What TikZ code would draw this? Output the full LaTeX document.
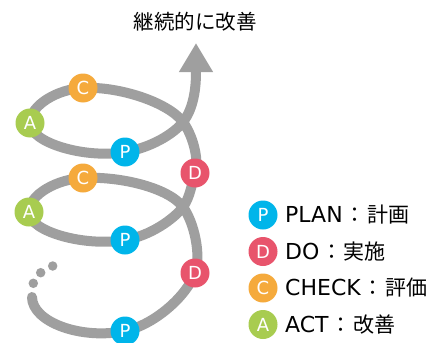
\documentclass[tikz,border=0pt]{standalone}
\usepackage{fontspec}
\setmainfont{Noto Sans CJK JP}
\newfontfamily\latinf{DejaVu Sans}
\usetikzlibrary{arrows.meta}
\definecolor{pcol}{RGB}{0,181,234}
\definecolor{dcol}{RGB}{232,84,108}
\definecolor{ccol}{RGB}{245,170,60}
\definecolor{acol}{RGB}{168,204,80}
\definecolor{spgray}{RGB}{159,159,159}
\tikzset{
  spiral/.style={draw=spgray, line width=10pt, line cap=round, -{Triangle[length=29pt,width=32pt]}},
  badge/.style={circle, minimum size=29pt, inner sep=0pt, text=white, font=\latinf\fontsize{18}{18}\selectfont},
  pbadge/.style={badge, fill=pcol},
  dbadge/.style={badge, fill=dcol},
  cbadge/.style={badge, fill=ccol},
  abadge/.style={badge, fill=acol},
  dot/.style={circle, fill=spgray, minimum size=9.5pt, inner sep=0pt},
  legtext/.style={anchor=west, inner sep=0pt, font=\fontsize{21}{21}\selectfont},
  title/.style={inner sep=0pt, font=\fontsize{20.5}{21}\selectfont}
}
\newcommand{\leg}[2]{{\latinf\fontsize{22}{22}\selectfont #1}\hspace{2pt}：\hspace{1.5pt}#2}
\begin{document}
\begin{tikzpicture}[x=1pt, y={(0pt,-1pt)}]
\useasboundingbox (0,0) rectangle (429,343);
% positions
\coordinate (s) at (32,297);
\coordinate (p3) at (125,331);
\coordinate (d3) at (195,273);
\coordinate (x2) at (183,207);
\coordinate (c2) at (83,178);
\coordinate (a2) at (29,212);
\coordinate (p2) at (125,240);
\coordinate (d2) at (195,173);
\coordinate (x1) at (183,122);
\coordinate (c1) at (83,88);
\coordinate (a1) at (30,123);
\coordinate (p1) at (125,152);
\coordinate (t) at (196,72);
\coordinate (tip) at (196,43);
% spiral
\draw[spiral] (s) .. controls (32,322) and (81,340) .. (p3)
  .. controls (154,325) and (186.4,296.5) .. (d3)
  .. controls (201.5,255) and (194,222) .. (x2)
  .. controls (168,187) and (118,176) .. (c2)
  .. controls (58,179) and (29,194) .. (a2)
  .. controls (29,232) and (86,247) .. (p2)
  .. controls (150,236) and (174,219) .. (x2)
  .. controls (190.2,197.4) and (192,182.5) .. (d2)
  .. controls (199.6,158.7) and (192,134) .. (x1)
  .. controls (168,102) and (118,86) .. (c1)
  .. controls (58,89) and (30,105) .. (a1)
  .. controls (30,143) and (86,159) .. (p1)
  .. controls (150,148) and (174,134) .. (x1)
  .. controls (194,108) and (196,87) .. (t) -- (tip);
% dots
\node[dot] (dt1) at (33.3,283.3) {};
\node[dot] (dt2) at (40.7,272.7) {};
\node[dot] (dt3) at (52.7,266) {};
% badges on spiral
\node[pbadge] (P3) at (p3) {P};
\node[dbadge] (D3) at (d3) {D};
\node[cbadge] (C2) at (c2) {C};
\node[abadge] (A2) at (a2) {A};
\node[pbadge] (P2) at (p2) {P};
\node[dbadge] (D2) at (d2) {D};
\node[cbadge] (C1) at (c1) {C};
\node[abadge] (A1) at (a1) {A};
\node[pbadge] (P1) at (p1) {P};
% title
\node[title] (ttl) at (195,22) {継続的に改善};
% legend
\node[pbadge] (lp) at (263,215) {P};
\node[dbadge] (ld) at (263,251.5) {D};
\node[cbadge] (lc) at (263,288) {C};
\node[abadge] (la) at (263,324.5) {A};
\node[legtext] (tp) at (285,215) {\leg{PLAN}{計画}};
\node[legtext] (td) at (285,251.5) {\leg{DO}{実施}};
\node[legtext] (tc) at (285,288) {\leg{CHECK}{評価}};
\node[legtext] (ta) at (285,324.5) {\leg{ACT}{改善}};
\end{tikzpicture}
\end{document}
